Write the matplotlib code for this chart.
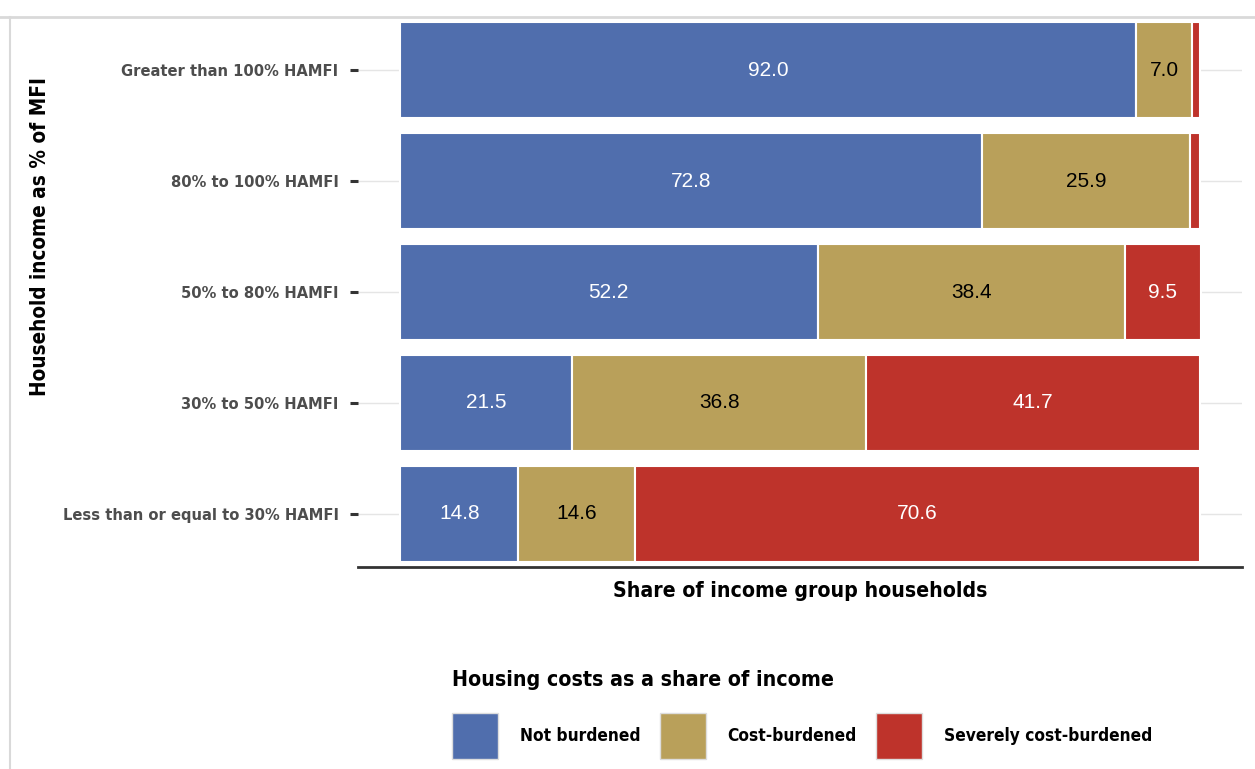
import matplotlib
matplotlib.use("Agg")
from matplotlib import pyplot as plt
from matplotlib import font_manager
from matplotlib.font_manager import FontProperties
from matplotlib.patches import Patch
from matplotlib.lines import Line2D
import numpy as np

# data
groups = ['Less than or equal to 30% HAMFI', '30% to 50% HAMFI', '50% to 80% HAMFI',
          '80% to 100% HAMFI', 'Greater than 100% HAMFI']
not_burdened = [14.8, 21.5, 52.2, 72.8, 92.0]
cost_burdened = [14.6, 36.8, 38.4, 25.9, 7.0]
severe = [70.6, 41.7, 9.5, 1.3, 1.0]
series_names = ['Not burdened', 'Cost-burdened', 'Severely cost-burdened']

colors = ['#506ead', '#b9a05a', '#be332b']
text_colors = ['white', 'black', 'white']


# look for a condensed bold face, the reference uses a DIN-like condensed font
def find_condensed():
    best = None
    for f in font_manager.fontManager.ttflist:
        cond = ('Condensed' in f.name or 'Narrow' in f.name
                or str(f.stretch) in ('condensed', 'semi-condensed', 'extra-condensed'))
        if not cond or 'Mono' in f.name or 'Serif' in f.name:
            continue
        w = f.weight if isinstance(f.weight, int) else {'bold': 700, 'semibold': 600}.get(f.weight, 400)
        score = -abs(w - 700)
        if best is None or score > best[0]:
            best = (score, f.fname)
    if best:
        return FontProperties(fname=best[1])
    return FontProperties(family='DejaVu Sans', weight='bold')


cond = find_condensed()

W, H = 1255, 769
fig = plt.figure(figsize=(12.55, 7.69), dpi=100)
renderer = fig.canvas.get_renderer()


def fit(s, target, rot=0):
    # font size that gives the text the reference width in pixels
    p = cond.copy()
    p.set_size(20)
    t = fig.text(0, 0, s, fontproperties=p, rotation=rot)
    bb = t.get_window_extent(renderer)
    t.remove()
    return 20 * target / (bb.height if rot else bb.width)


def prop(size):
    p = cond.copy()
    p.set_size(size)
    return p


tick_size = fit(groups[0], 276)
xlab_size = fit('Share of income group households', 373)
ylab_size = fit('Household income as % of MFI', 320, rot=90)
ltitle_size = fit('Housing costs as a share of income', 381)
lab_size = fit('Severely cost-burdened', 208)

ax = fig.add_axes([358 / W, 1 - 567 / H, (1242 - 358) / W, (567 - 17) / H])

y = np.arange(len(groups))
left = np.zeros(len(groups))
for vals, col, tc in zip([not_burdened, cost_burdened, severe], colors, text_colors):
    vals = np.array(vals)
    ax.barh(y, vals, left=left, height=0.87, color=col, edgecolor='white', linewidth=1.5, zorder=2)
    for yi, l, v in zip(y, left, vals):
        if v >= 5:
            ax.text(l + v / 2, yi, f'{v:.1f}', ha='center', va='center', color=tc,
                    fontsize=15, family='Liberation Sans', zorder=3)
    left = left + vals

ax.set_xlim(-5.25, 105.25)
ax.set_ylim(-0.48, len(groups) - 0.52)
ax.set_yticks(y)
ax.set_yticklabels(groups)
for t in ax.get_yticklabels():
    t.set_fontproperties(prop(tick_size))
    t.set_color('#4d4d4d')
ax.set_xticks([])
ax.tick_params(axis='y', length=6, width=2.2, color='#333333', pad=8)
ax.grid(axis='y', color='#e5e5e5', linewidth=1, zorder=0)
for s in ['top', 'right', 'left']:
    ax.spines[s].set_visible(False)
ax.spines['bottom'].set_color('#333333')
ax.spines['bottom'].set_linewidth(2)

ax.set_xlabel('Share of income group households', fontproperties=prop(xlab_size), labelpad=10)
fig.text(40 / W, 1 - 237 / H, 'Household income as % of MFI', rotation=90,
         fontproperties=prop(ylab_size), ha='center', va='center')

# legend, spacing given in pixels of the reference and turned into font units
em = lab_size * 100 / 72
hh = (46 - 0.245 * em) / (0.65 * em)
handles = [Patch(facecolor=c, edgecolor='#dddddd') for c in colors]
leg = fig.legend(handles, series_names, loc='upper left', bbox_to_anchor=(452 / W, 1 - 670 / H),
                 ncol=3, frameon=False, title='Housing costs as a share of income',
                 prop=prop(lab_size), title_fontproperties=prop(ltitle_size),
                 handlelength=46 / em, handleheight=hh, handletextpad=22 / em,
                 columnspacing=19 / em, labelspacing=23 / em,
                 borderaxespad=0, borderpad=0, alignment='left')

# frame lines of the screenshot
fig.add_artist(Line2D([0, 1], [1 - 17 / H, 1 - 17 / H], color='#d9d9d9', linewidth=2))
fig.add_artist(Line2D([10 / W, 10 / W], [0, 1 - 17 / H], color='#d9d9d9', linewidth=1.5))

fig.savefig('out.png', dpi=100)
